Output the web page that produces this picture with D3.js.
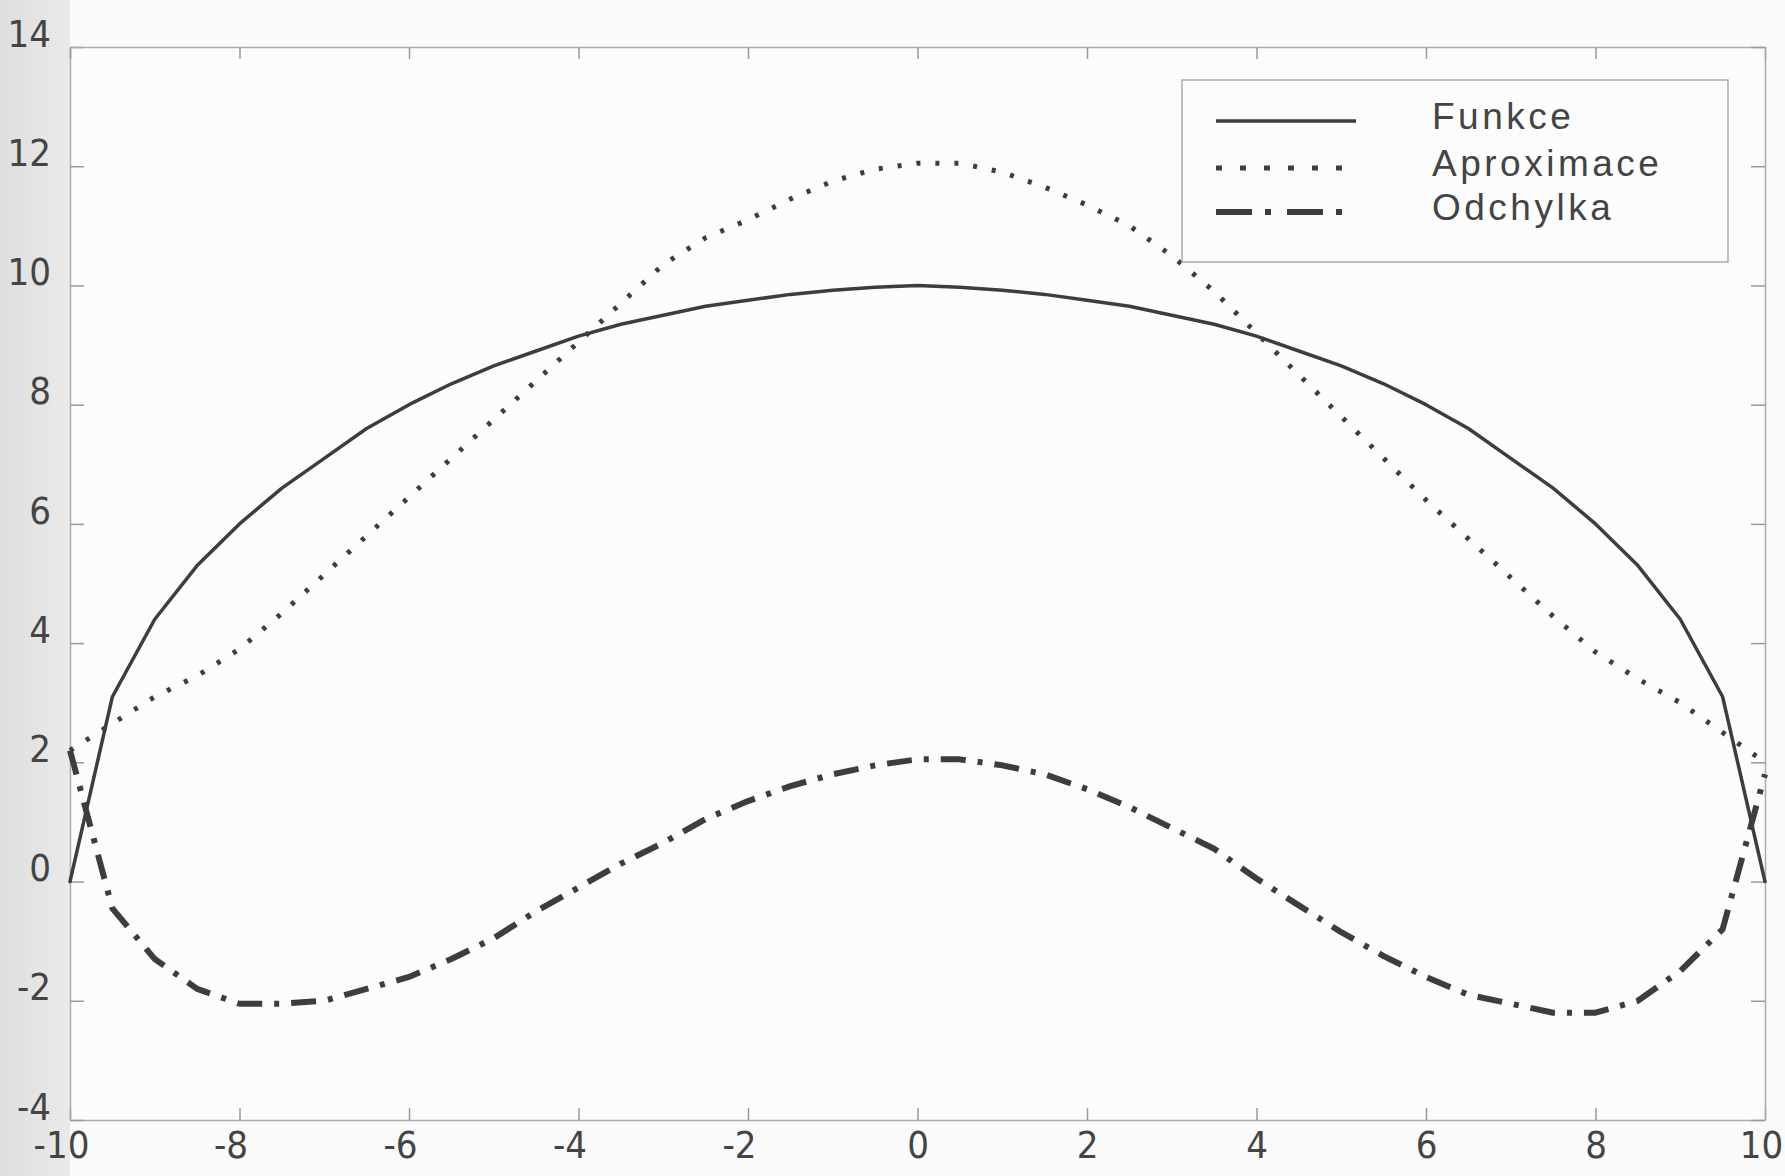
<!DOCTYPE html>
<html>
<head>
<meta charset="utf-8">
<script src="https://cdn.jsdelivr.net/npm/d3@7"></script>
<style>
  html, body { margin: 0; padding: 0; background: #fafafa; }
  svg { display: block; }
</style>
</head>
<body>
<script>
// x samples (step 0.5) and the three curves
var xs = [-10, -9.5, -9, -8.5, -8, -7.5, -7, -6.5, -6, -5.5, -5, -4.5, -4, -3.5, -3, -2.5, -2, -1.5, -1, -0.5,
          0, 0.5, 1, 1.5, 2, 2.5, 3, 3.5, 4, 4.5, 5, 5.5, 6, 6.5, 7, 7.5, 8, 8.5, 9, 9.5, 10];

var funkce = [0, 3.1, 4.4, 5.3, 6.0, 6.6, 7.1, 7.6, 8.0, 8.35, 8.65, 8.9, 9.15, 9.35, 9.5, 9.65, 9.75, 9.85, 9.92, 9.97,
              10.0, 9.97, 9.92, 9.85, 9.75, 9.65, 9.5, 9.35, 9.15, 8.9, 8.65, 8.35, 8.0, 7.6, 7.1, 6.6, 6.0, 5.3, 4.4, 3.1, 0];

var aproximace = [2.2, 2.65, 3.1, 3.45, 3.9, 4.5, 5.15, 5.8, 6.45, 7.1, 7.75, 8.4, 9.05, 9.7, 10.35, 10.8, 11.1, 11.45, 11.75, 11.95,
                  12.05, 12.05, 11.9, 11.65, 11.35, 11.0, 10.5, 9.9, 9.2, 8.5, 7.8, 7.1, 6.4, 5.75, 5.1, 4.45, 3.85, 3.4, 3.0, 2.5, 2.0];

var odchylka = [2.2, -0.45, -1.3, -1.8, -2.05, -2.05, -2.0, -1.8, -1.6, -1.3, -0.95, -0.5, -0.1, 0.3, 0.65, 1.05, 1.35, 1.6, 1.8, 1.95,
                2.05, 2.05, 1.95, 1.8, 1.55, 1.25, 0.9, 0.55, 0.05, -0.4, -0.85, -1.25, -1.6, -1.9, -2.05, -2.2, -2.2, -2.0, -1.5, -0.8, 1.8];

var seriesNames = ["Funkce", "Aproximace", "Odchylka"];
var xTicks = [-10, -8, -6, -4, -2, 0, 2, 4, 6, 8, 10];
var yTicks = [-4, -2, 0, 2, 4, 6, 8, 10, 12, 14];

var w = 1785, h = 1176;
var ink = "#3d3d3d";

var svg = d3.select("body").append("svg")
    .attr("width", w)
    .attr("height", h);

// scan shading on the left edge
var grad = svg.append("defs").append("linearGradient")
    .attr("id", "shade");
grad.append("stop").attr("offset", "0%").attr("stop-color", "#dedede");
grad.append("stop").attr("offset", "100%").attr("stop-color", "#eaeaea");
svg.append("rect").attr("x", 0).attr("y", 0).attr("width", 70).attr("height", h).attr("fill", "url(#shade)");

var x = d3.scaleLinear().domain([-10, 10]).range([70, 1765]);
var y = d3.scaleLinear().domain([-4, 14]).range([1120, 47]);

svg.append("rect")
    .attr("x", x(-10)).attr("y", y(14))
    .attr("width", x(10) - x(-10)).attr("height", y(-4) - y(14))
    .attr("fill", "#fcfcfc");

// plain hyphen for negatives, like the original print
var fmt = function(d) { return String(d); };

// axes: ticks inward on all four sides, labels left and bottom
function styleAxis(g) {
  g.selectAll(".domain").attr("stroke", "#ababab").attr("stroke-width", 1.5);
  g.selectAll(".tick line").attr("stroke", "#9a9a9a").attr("stroke-width", 1.5);
  g.selectAll("text")
    .attr("fill", "#444")
    .style("font-family", "'Liberation Sans Narrow', 'DejaVu Sans Condensed', sans-serif")
    .style("font-size", "38px");
}

svg.append("g")
    .attr("transform", "translate(0," + y(-4) + ")")
    .call(d3.axisBottom(x).tickValues(xTicks).tickSize(-12).tickPadding(11).tickSizeOuter(0).tickFormat(fmt))
    .call(styleAxis)
    .selectAll("text")
    .attr("dx", function(d) { return d < 0 ? -9 : (d == 10 ? -4 : 0); });

svg.append("g")
    .attr("transform", "translate(" + x(-10) + ",0)")
    .call(d3.axisLeft(y).tickValues(yTicks).tickSize(-14).tickPadding(19).tickSizeOuter(0).tickFormat(fmt))
    .call(styleAxis)
    .selectAll("text")
    .attr("y", -13);

svg.append("g")
    .attr("transform", "translate(0," + y(14) + ")")
    .call(d3.axisTop(x).tickValues(xTicks).tickSize(-12).tickFormat("").tickSizeOuter(0))
    .call(styleAxis);

svg.append("g")
    .attr("transform", "translate(" + x(10) + ",0)")
    .call(d3.axisRight(y).tickValues(yTicks).tickSize(-14).tickFormat("").tickSizeOuter(0))
    .call(styleAxis);

// the three curves
var styles = [
  { data: funkce, width: 3.5, dash: null, cap: "round", legendDash: null },
  { data: aproximace, width: 5, dash: "4,15", cap: "butt", legendDash: "6,18" },
  { data: odchylka, width: 6, dash: "25,12,5,12", cap: "butt", legendDash: "36,13,6,16" }
];

var line = d3.line()
    .x(function(d, i) { return x(xs[i]); })
    .y(function(d) { return y(d); });

svg.selectAll("path.curve")
    .data(styles)
    .enter()
    .append("path")
    .attr("class", "curve")
    .attr("d", function(s) { return line(s.data); })
    .attr("fill", "none")
    .attr("stroke", ink)
    .attr("stroke-width", function(s) { return s.width; })
    .attr("stroke-linecap", function(s) { return s.cap; })
    .attr("stroke-linejoin", "round")
    .attr("stroke-dasharray", function(s) { return s.dash; });

// legend box
var legend = svg.append("g");
legend.append("rect")
    .attr("x", 1182).attr("y", 80)
    .attr("width", 546).attr("height", 182)
    .attr("fill", "#fcfcfc")
    .attr("stroke", "#ababab")
    .attr("stroke-width", 1.5);

var rowY = [121, 168, 212];

legend.selectAll("line.key")
    .data(styles)
    .enter()
    .append("line")
    .attr("class", "key")
    .attr("x1", 1216).attr("x2", 1356)
    .attr("y1", function(d, i) { return rowY[i]; })
    .attr("y2", function(d, i) { return rowY[i]; })
    .attr("stroke", ink)
    .attr("stroke-width", function(s) { return s.width; })
    .attr("stroke-dasharray", function(s) { return s.legendDash; });

legend.selectAll("text.key")
    .data(seriesNames)
    .enter()
    .append("text")
    .attr("class", "key")
    .attr("x", 1432)
    .attr("y", function(d, i) { return rowY[i] - 5; })
    .attr("dy", "0.35em")
    .attr("fill", "#444")
    .style("font-family", "'Liberation Sans', Arial, sans-serif")
    .style("font-size", "37px")
    .style("letter-spacing", "3.5px")
    .text(function(d) { return d; });
</script>
</body>
</html>
